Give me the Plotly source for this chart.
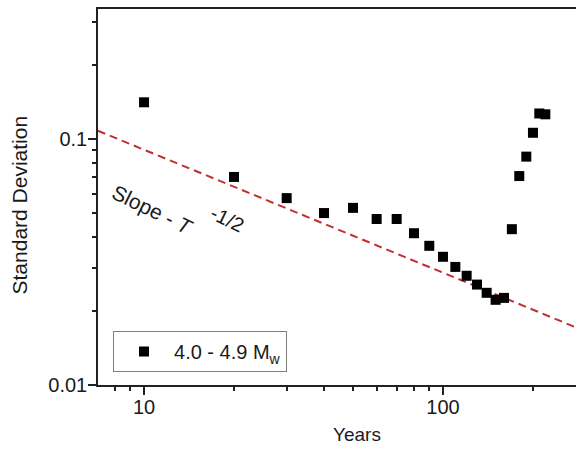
import plotly.graph_objects as go

years = [10, 20, 30, 40, 50, 60, 70, 80, 90, 100, 110, 120, 130, 140, 150, 160,
         170, 180, 190, 200, 210, 220]
std_dev = [0.141, 0.0701, 0.0575, 0.0500, 0.0525, 0.0473, 0.0473, 0.0414, 0.0368,
           0.0332, 0.0302, 0.0278, 0.0256, 0.0237, 0.0222, 0.0226,
           0.0430, 0.0707, 0.0848, 0.106, 0.127, 0.126]

slope_x = [7.0, 280.0]
slope_y = [0.1081, 0.0171]

series_name = "4.0 - 4.9 M<sub>w</sub>"
slope_label = "Slope - <i>T</i>"
slope_exp = "-1/2"
x_title = "Years"
y_title = "Standard Deviation"

FONT = "Arial, Liberation Sans, sans-serif"
TXT = "#1a1a1a"

fig = go.Figure()
fig.add_trace(go.Scatter(
    x=slope_x, y=slope_y, mode="lines",
    line=dict(color="#c0302e", width=2, dash="8px,5px"),
    showlegend=False, hoverinfo="skip"))
fig.add_trace(go.Scatter(
    x=years, y=std_dev, mode="markers", name=series_name,
    marker=dict(symbol="square", size=10, color="black")))

x_minor = [8, 9, 20, 30, 40, 50, 60, 70, 80, 90, 200]
y_minor = [0.02, 0.03, 0.04, 0.05, 0.06, 0.07, 0.08, 0.09, 0.2, 0.3]

fig.update_layout(
    width=576, height=450,
    margin=dict(l=98, r=0, t=9, b=65),
    paper_bgcolor="white", plot_bgcolor="white",
    font=dict(family=FONT, size=20, color=TXT),
    legend=dict(x=0.0314, y=0.1436, xanchor="left", yanchor="top",
                bordercolor="#7f7f7f", borderwidth=1, bgcolor="white",
                font=dict(size=20, color=TXT), itemwidth=50),
    xaxis=dict(type="log", range=[0.846, 2.445], showgrid=False, zeroline=False,
               showline=True, linecolor="#222", linewidth=1.5, mirror=True,
               ticks="outside", ticklen=8, tickwidth=1.5, tickcolor="#222",
               tickvals=[10, 100], ticktext=["10", "100"],
               ticklabelstandoff=-5,
               minor=dict(tickvals=x_minor, ticks="outside", ticklen=4,
                          tickwidth=1.5, tickcolor="#222", showgrid=False)),
    yaxis=dict(type="log", range=[-2, -0.4715], showgrid=False, zeroline=False,
               showline=True, linecolor="#222", linewidth=1.5,
               ticks="outside", ticklen=8, tickwidth=1.5, tickcolor="#222",
               tickvals=[0.01, 0.1], ticktext=["0.01", "0.1"],
               ticklabelstandoff=-3,
               minor=dict(tickvals=y_minor, ticks="outside", ticklen=4,
                          tickwidth=1.5, tickcolor="#222", showgrid=False)),
)

fig.add_annotation(text=x_title, xref="paper", yref="paper",
                   x=(357 - 98) / 478, y=-(435 - 385) / 376,
                   xanchor="center", yanchor="middle", showarrow=False,
                   font=dict(size=19, color=TXT))
fig.add_annotation(text=y_title, xref="paper", yref="paper",
                   x=(19 - 98) / 478, y=(385 - 205.5) / 376,
                   xanchor="center", yanchor="middle", showarrow=False,
                   textangle=-90, font=dict(size=21, color=TXT))
fig.add_annotation(text=slope_label, xref="paper", yref="paper",
                   x=(152 - 98) / 478, y=(385 - 210) / 376,
                   xanchor="center", yanchor="middle", showarrow=False,
                   textangle=26, font=dict(size=21, color=TXT))
fig.add_annotation(text=slope_exp, xref="paper", yref="paper",
                   x=(227 - 98) / 478, y=(385 - 219) / 376,
                   xanchor="center", yanchor="middle", showarrow=False,
                   textangle=26, font=dict(size=20, color=TXT))

fig.write_html("out.html")
